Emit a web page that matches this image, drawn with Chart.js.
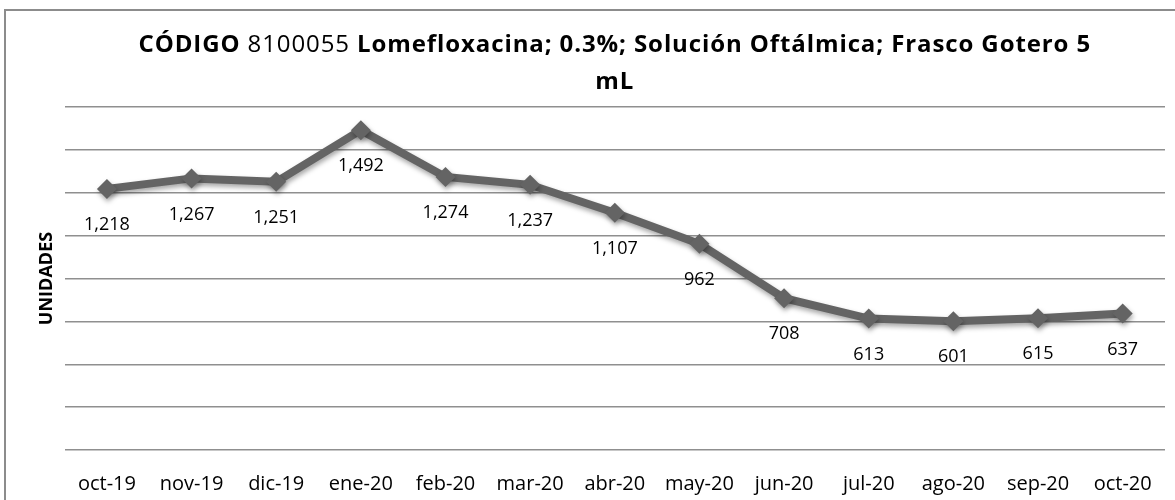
<!DOCTYPE html>
<html>
<head>
<meta charset="utf-8">
<script src="https://cdn.jsdelivr.net/npm/chart.js@4"></script>
<style>
  html, body { margin: 0; padding: 0; background: #fff; }
  #wrap { width: 1175px; height: 500px; position: relative; }
</style>
</head>
<body>
<div id="wrap"><canvas id="chart" width="1175" height="500"></canvas></div>
<script>
const months = ['oct-19', 'nov-19', 'dic-19', 'ene-20', 'feb-20', 'mar-20', 'abr-20', 'may-20', 'jun-20', 'jul-20', 'ago-20', 'sep-20', 'oct-20']
const unidades = [1218, 1267, 1251, 1492, 1274, 1237, 1107, 962, 708, 613, 601, 615, 637]
const yMin = 0
const yMax = 1600
const yStep = 200
const titleParts = [
    { text: 'CÓDIGO ', bold: true },
    { text: '8100055 ', bold: false },
    { text: 'Lomefloxacina; 0.3%; Solución Oftálmica; Frasco Gotero 5', bold: true }
]
const titleLine2 = 'mL'
const yTitle = 'UNIDADES'

const FONT = "'Open Sans', 'Noto Sans', sans-serif"
const lineGrey = '#646464'

// outer frame + two-weight title
const framePlugin = {
    id: 'frame',
    beforeDraw(chart) {
        const ctx = chart.ctx
        ctx.save()
        ctx.fillStyle = '#fff'
        ctx.fillRect(0, 0, chart.width, chart.height)
        ctx.strokeStyle = '#8c8c8c'
        ctx.lineWidth = 2
        ctx.strokeRect(5, 10, chart.width + 10, chart.height + 10)
        ctx.restore()
    },
    afterDraw(chart) {
        const ctx = chart.ctx
        const area = chart.chartArea
        const cx = (area.left + area.right) / 2
        ctx.save()
        ctx.fillStyle = '#000'
        ctx.textBaseline = 'middle'
        ctx.textAlign = 'left'
        if ('letterSpacing' in ctx) ctx.letterSpacing = '0.9px'
        const fontOf = p => (p.bold ? 'bold ' : '') + '24px ' + FONT
        let total = 0
        titleParts.forEach(p => {
            ctx.font = fontOf(p)
            total += ctx.measureText(p.text).width
        })
        let x = cx - total / 2
        titleParts.forEach(p => {
            ctx.font = fontOf(p)
            ctx.fillText(p.text, x, 45)
            x += ctx.measureText(p.text).width
        })
        ctx.font = 'bold 24px ' + FONT
        ctx.textAlign = 'center'
        ctx.fillText(titleLine2, cx, 82)
        ctx.restore()
    }
}

// soft shadow under the line, then value labels below each point
const shadowPlugin = {
    id: 'shadow',
    beforeDatasetsDraw(chart) {
        const ctx = chart.ctx
        ctx.save()
        ctx.shadowColor = 'rgba(0,0,0,0.35)'
        ctx.shadowBlur = 5
        ctx.shadowOffsetX = 1
        ctx.shadowOffsetY = 3
    },
    afterDatasetsDraw(chart) {
        const ctx = chart.ctx
        ctx.restore()
        ctx.save()
        ctx.fillStyle = '#000'
        ctx.font = '18px ' + FONT
        ctx.textAlign = 'center'
        ctx.textBaseline = 'middle'
        const meta = chart.getDatasetMeta(0)
        meta.data.forEach((pt, i) => {
            ctx.fillText(unidades[i].toLocaleString('en-US'), pt.x, pt.y + 36)
        })
        ctx.restore()
    }
}

new Chart(document.getElementById('chart'), {
    type: 'line',
    data: {
        labels: months,
        datasets: [{
            data: unidades,
            borderColor: lineGrey,
            backgroundColor: lineGrey,
            borderWidth: 8,
            pointStyle: 'rectRot',
            pointRadius: 10,
            pointBorderWidth: 0,
            pointBackgroundColor: lineGrey,
            tension: 0,
            fill: false
        }]
    },
    options: {
        responsive: false,
        animation: false,
        devicePixelRatio: 1,
        layout: {
            padding: { top: 107, right: 10, bottom: 5, left: 36 }
        },
        plugins: {
            legend: { display: false },
            tooltip: { enabled: false },
            title: { display: false }
        },
        scales: {
            x: {
                offset: true,
                grid: { display: false },
                border: { display: false },
                afterFit(scale) { scale.height = 45 },
                ticks: {
                    color: '#000',
                    font: { family: FONT, size: 20 },
                    padding: 14,
                    maxRotation: 0,
                    autoSkip: false
                }
            },
            y: {
                min: yMin,
                max: yMax,
                grid: { color: '#8f8f8f', lineWidth: 1.5, drawTicks: false },
                border: { display: false },
                ticks: { display: false, stepSize: yStep },
                title: {
                    display: true,
                    text: yTitle,
                    color: '#000',
                    font: { family: FONT, size: 18, weight: 'bold' },
                    padding: { top: 0, bottom: 7 }
                }
            }
        }
    },
    plugins: [framePlugin, shadowPlugin]
})
</script>
</body>
</html>
